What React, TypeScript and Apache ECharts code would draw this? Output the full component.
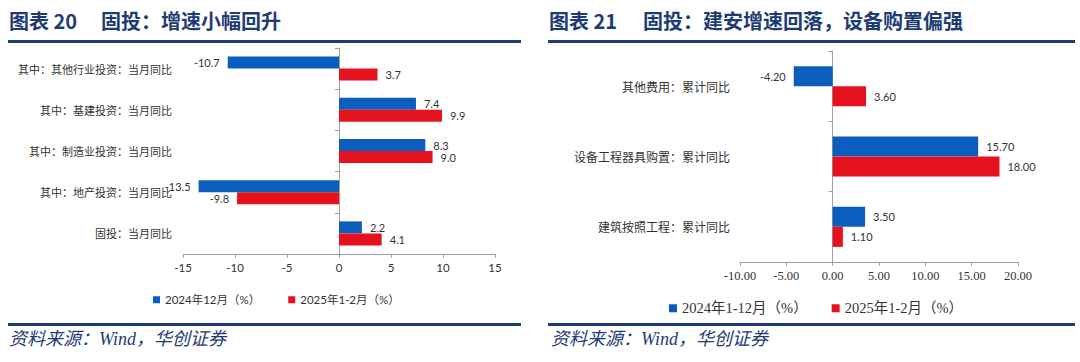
import React, { useEffect, useRef } from "react";
import * as echarts from "echarts";

const leftCategories = [
  "其中：其他行业投资：当月同比",
  "其中：基建投资：当月同比",
  "其中：制造业投资：当月同比",
  "其中：地产投资：当月同比",
  "固投：当月同比",
];
const leftSeriesNames = ["2024年12月（%）", "2025年1-2月（%）"];
const left2024Dec = [-10.7, 7.4, 8.3, -13.5, 2.2];
const left2025JanFeb = [3.7, 9.9, 9.0, -9.8, 4.1];

const rightCategories = [
  "其他费用：累计同比",
  "设备工程器具购置：累计同比",
  "建筑按照工程：累计同比",
];
const rightSeriesNames = ["2024年1-12月（%）", "2025年1-2月（%） "];
const right2024 = [-4.2, 15.7, 3.5];
const right2025 = [3.6, 18.0, 1.1];

const BLUE = "#0B5EBE";
const RED = "#E5121D";
const NAVY = "#1E3C74";
const AXIS = "#A0A0A0";
const SANS = "Lato, 'Noto Sans CJK SC', sans-serif";
const SERIF = "'Liberation Serif', 'Noto Sans CJK SC', serif";

function items(values: number[], digits: number) {
  return values.map((v) => ({
    value: v,
    label: {
      position: v < 0 ? "left" : "right",
      formatter: () => v.toFixed(digits),
    },
  }));
}

export default function App() {
  const ref = useRef<HTMLDivElement>(null);
  useEffect(() => {
    if (!ref.current) return;
    const chart = echarts.init(ref.current, undefined, { renderer: "svg" });
    const valueLabel = { show: true, distance: 8, color: "#333", fontSize: 11, fontFamily: SANS };
    const titleFont = "bold 20px 'Noto Sans CJK SC', serif";
    const footFont = "italic 18px 'Liberation Serif', 'Noto Sans CJK SC', serif";
    const option: any = {
      animation: false,
      backgroundColor: "#fff",
      grid: [
        { left: 183, width: 312, top: 48, height: 206 },
        { left: 740, width: 278, top: 51, height: 211 },
      ],
      xAxis: [
        {
          type: "value", gridIndex: 0, min: -15, max: 15, interval: 5,
          axisLine: { show: true, lineStyle: { color: AXIS } },
          axisTick: { show: true, length: 4, lineStyle: { color: AXIS } },
          splitLine: { show: false },
          axisLabel: { color: "#333", fontSize: 11.5, fontFamily: SANS, margin: 8 },
        },
        {
          type: "value", gridIndex: 1, min: -10, max: 20, interval: 5,
          axisLine: { show: true, lineStyle: { color: AXIS } },
          axisTick: { show: true, length: 4, lineStyle: { color: AXIS } },
          splitLine: { show: false },
          axisLabel: { color: "#333", fontSize: 12.5, fontFamily: SERIF, margin: 8, formatter: (v: number) => v.toFixed(2) },
        },
      ],
      yAxis: [
        {
          type: "category", gridIndex: 0, data: leftCategories, inverse: true,
          axisLine: { show: false, onZero: false }, axisTick: { show: false },
          axisLabel: { color: "#333", fontSize: 11, fontFamily: "'Noto Sans CJK SC', sans-serif", margin: 11 },
        },
        {
          type: "category", gridIndex: 0, data: leftCategories, inverse: true, position: "left",
          axisLine: { show: true, onZero: true, lineStyle: { color: AXIS } },
          axisTick: { show: true, length: 4, lineStyle: { color: AXIS } },
          axisLabel: { show: false },
        },
        {
          type: "category", gridIndex: 1, data: rightCategories, inverse: true,
          axisLine: { show: false, onZero: false }, axisTick: { show: false },
          axisLabel: { color: "#333", fontSize: 12, fontFamily: "'Noto Sans CJK SC', sans-serif", margin: 10 },
        },
        {
          type: "category", gridIndex: 1, data: rightCategories, inverse: true, position: "left",
          axisLine: { show: true, onZero: true, lineStyle: { color: AXIS } },
          axisTick: { show: true, length: 4, lineStyle: { color: AXIS } },
          axisLabel: { show: false },
        },
      ],
      legend: [
        {
          left: 148, top: 289, itemWidth: 7, itemHeight: 7, itemGap: 28, icon: "rect",
          data: leftSeriesNames,
          textStyle: { color: "#333", fontSize: 11.5, fontFamily: SANS },
          selectedMode: false,
        },
        {
          left: 664, top: 296, itemWidth: 8, itemHeight: 8, itemGap: 24, icon: "rect",
          data: rightSeriesNames,
          textStyle: { color: "#333", fontSize: 14.5, fontFamily: SERIF },
          selectedMode: false,
        },
      ],
      series: [
        {
          name: leftSeriesNames[0], type: "bar", xAxisIndex: 0, yAxisIndex: 0,
          data: items(left2024Dec, 1), barWidth: 12, barGap: "0%",
          itemStyle: { color: BLUE }, label: valueLabel,
        },
        {
          name: leftSeriesNames[1], type: "bar", xAxisIndex: 0, yAxisIndex: 0,
          data: items(left2025JanFeb, 1), barWidth: 12, barGap: "0%",
          itemStyle: { color: RED }, label: valueLabel,
        },
        {
          name: rightSeriesNames[0], type: "bar", xAxisIndex: 1, yAxisIndex: 2,
          data: items(right2024, 2), barWidth: 20, barGap: "0%",
          itemStyle: { color: BLUE }, label: valueLabel,
        },
        {
          name: rightSeriesNames[1], type: "bar", xAxisIndex: 1, yAxisIndex: 2,
          data: items(right2025, 2), barWidth: 20, barGap: "0%",
          itemStyle: { color: RED }, label: valueLabel,
        },
      ],
      graphic: [
        { type: "text", left: 9, top: 10, style: { text: "图表 20", fill: NAVY, font: titleFont } },
        { type: "text", left: 101, top: 10, style: { text: "固投：增速小幅回升", fill: NAVY, font: titleFont } },
        { type: "rect", shape: { x: 8, y: 40, width: 513, height: 3 }, style: { fill: NAVY } },
        { type: "rect", shape: { x: 8, y: 323, width: 513, height: 3 }, style: { fill: NAVY } },
        { type: "text", left: 9, top: 330, style: { text: "资料来源：Wind，华创证券", fill: NAVY, font: footFont } },
        { type: "text", left: 549, top: 10, style: { text: "图表 21", fill: NAVY, font: titleFont } },
        { type: "text", left: 643, top: 10, style: { text: "固投：建安增速回落，设备购置偏强", fill: NAVY, font: titleFont } },
        { type: "rect", shape: { x: 548, y: 40, width: 527, height: 3 }, style: { fill: NAVY } },
        { type: "rect", shape: { x: 548, y: 323, width: 527, height: 3 }, style: { fill: NAVY } },
        { type: "text", left: 551, top: 330, style: { text: "资料来源：Wind，华创证券", fill: NAVY, font: footFont } },
      ],
    };
    chart.setOption(option);
    return () => chart.dispose();
  }, []);
  return (
    <div
      ref={ref}
      style={{ position: "fixed", left: 0, top: 0, width: 1080, height: 362 }}
    />
  );
}
